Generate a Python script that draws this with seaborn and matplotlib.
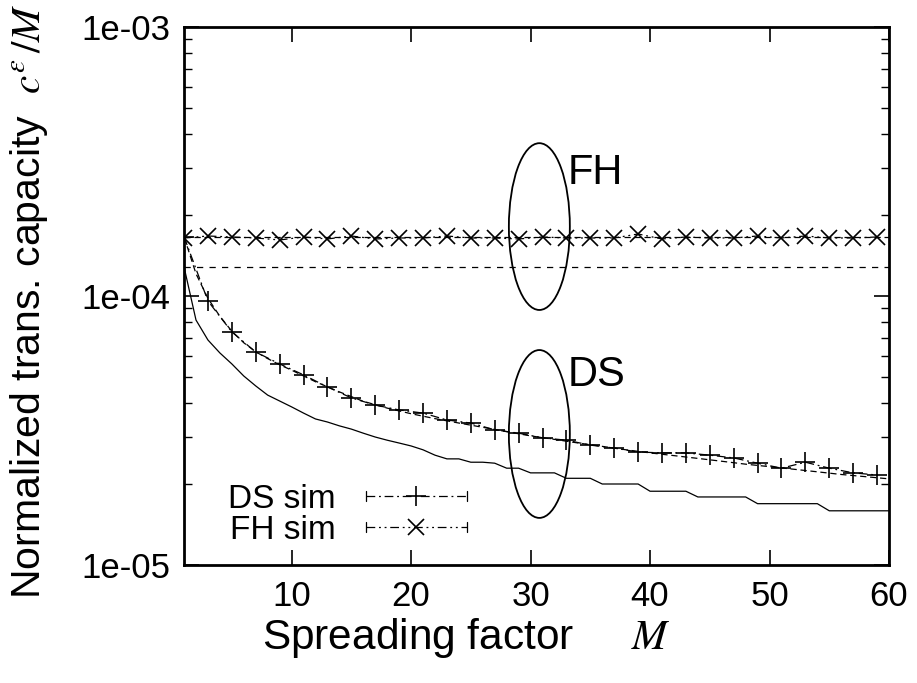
import numpy as np
import pandas as pd
import matplotlib
matplotlib.use("Agg")
import matplotlib.pyplot as plt
import seaborn as sns
from matplotlib.patches import Ellipse
from matplotlib.lines import Line2D
from matplotlib.legend_handler import HandlerBase

# ---------------- data ----------------
m_sim = [1, 3, 5, 7, 9, 11, 13, 15, 17, 19, 21, 23, 25, 27, 29,
         31, 33, 35, 37, 39, 41, 43, 45, 47, 49, 51, 53, 55, 57, 59]
ds_sim = [1.66e-4, 9.58e-5, 7.35e-5, 6.19e-5, 5.59e-5, 5.09e-5, 4.59e-5, 4.18e-5,
          3.93e-5, 3.77e-5, 3.67e-5, 3.46e-5, 3.37e-5, 3.18e-5, 3.09e-5,
          2.97e-5, 2.91e-5, 2.79e-5, 2.72e-5, 2.63e-5, 2.61e-5, 2.61e-5, 2.56e-5,
          2.50e-5, 2.39e-5, 2.29e-5, 2.41e-5, 2.29e-5, 2.20e-5, 2.16e-5]
fh_sim = [1.643e-4, 1.671e-4, 1.657e-4, 1.643e-4, 1.615e-4, 1.657e-4, 1.629e-4, 1.671e-4,
          1.629e-4, 1.643e-4, 1.643e-4, 1.671e-4, 1.643e-4, 1.643e-4, 1.629e-4,
          1.657e-4, 1.643e-4, 1.643e-4, 1.643e-4, 1.700e-4, 1.629e-4, 1.657e-4, 1.643e-4,
          1.643e-4, 1.671e-4, 1.643e-4, 1.671e-4, 1.643e-4, 1.643e-4, 1.657e-4]

m_theory = [1, 2, 3, 4, 5, 6, 7, 8, 9, 10, 12, 14, 16, 18, 20, 22, 24, 26, 28, 30,
            32, 34, 36, 38, 40, 42, 44, 46, 48, 50, 52, 54, 56, 58, 60]
ds_theory = [1.66e-4, 1.21e-4, 9.8e-5, 8.4e-5, 7.4e-5, 6.7e-5, 6.2e-5, 5.85e-5, 5.55e-5,
             5.3e-5, 4.8e-5, 4.4e-5, 4.06e-5, 3.83e-5, 3.65e-5, 3.5e-5, 3.37e-5, 3.25e-5,
             3.13e-5, 3.02e-5, 2.93e-5, 2.84e-5, 2.76e-5, 2.68e-5, 2.61e-5, 2.55e-5,
             2.49e-5, 2.43e-5, 2.37e-5, 2.32e-5, 2.27e-5, 2.22e-5, 2.17e-5, 2.13e-5, 2.09e-5]

m_bound = list(range(1, 61))
ds_bound = [1.282e-4, 8.14e-5, 6.86e-5, 6.14e-5, 5.59e-5, 5.04e-5, 4.63e-5, 4.28e-5, 4.07e-5, 3.87e-5,
            3.67e-5, 3.49e-5, 3.40e-5, 3.29e-5, 3.20e-5, 3.09e-5, 2.99e-5, 2.91e-5, 2.84e-5, 2.77e-5,
            2.68e-5, 2.56e-5, 2.48e-5, 2.48e-5, 2.41e-5, 2.41e-5, 2.39e-5, 2.29e-5, 2.29e-5, 2.20e-5,
            2.20e-5, 2.20e-5, 2.10e-5, 2.10e-5, 2.10e-5, 2.00e-5, 2.00e-5, 2.00e-5, 2.00e-5, 1.88e-5,
            1.88e-5, 1.88e-5, 1.88e-5, 1.79e-5, 1.79e-5, 1.79e-5, 1.79e-5, 1.79e-5, 1.69e-5, 1.69e-5,
            1.69e-5, 1.69e-5, 1.69e-5, 1.69e-5, 1.59e-5, 1.59e-5, 1.59e-5, 1.59e-5, 1.59e-5, 1.59e-5]

fh_theory_level = 1.65e-4
fh_bound_level = 1.282e-4

x_ticks = [10, 20, 30, 40, 50, 60]
y_ticks = [1e-5, 1e-4, 1e-3]
y_tick_labels = ["1e-05", "1e-04", "1e-03"]

# ---------------- style ----------------
sns.set_style("ticks")
plt.rcParams["font.family"] = ["Liberation Sans", "DejaVu Sans"]
plt.rcParams["mathtext.fontset"] = "stix"
for key in ["text.color", "axes.labelcolor", "xtick.color", "ytick.color", "axes.edgecolor"]:
    plt.rcParams[key] = "k"

fig = plt.figure(figsize=(9.17, 6.83), dpi=100)
ax = fig.add_axes([0.2007, 0.1728, 0.7688, 0.7877])
ax.set_yscale("log")

LW = 0.9
df_bound = pd.DataFrame({"M": m_bound, "v": ds_bound})
df_th = pd.DataFrame({"M": m_theory, "v": ds_theory})
df_ds = pd.DataFrame({"M": m_sim, "v": ds_sim})
df_fh = pd.DataFrame({"M": m_sim, "v": fh_sim})

sns.lineplot(data=df_bound, x="M", y="v", ax=ax, color="k", lw=LW, linestyle="-")
sns.lineplot(data=df_th, x="M", y="v", ax=ax, color="k", lw=LW, linestyle=(0, (5, 3)))
ax.axhline(fh_bound_level, color="k", lw=LW, linestyle=(0, (5, 5)))
ax.axhline(fh_theory_level, color="k", lw=LW, linestyle=(0, (5, 3)))
sns.lineplot(data=df_ds, x="M", y="v", ax=ax, color="k", lw=LW,
             linestyle=(0, (7, 3, 1.5, 3)), marker="+", markersize=15,
             markeredgewidth=1.2, markeredgecolor="k", markerfacecolor="k",
             label="DS sim")
sns.lineplot(data=df_fh, x="M", y="v", ax=ax, color="k", lw=LW,
             linestyle=(0, (7, 3, 1.5, 3, 1.5, 3)), marker="x", markersize=11,
             markeredgewidth=1.2, markeredgecolor="k", markerfacecolor="k",
             label="FH sim")

ax.set_xlim(1, 60)
ax.set_ylim(1e-5, 1e-3)
ax.set_xticks(x_ticks)
ax.set_xticklabels([str(t) for t in x_ticks])
ax.set_yticks(y_ticks)
ax.set_yticklabels(y_tick_labels)

for s in ax.spines.values():
    s.set_linewidth(2.0)
    s.set_visible(True)
    s.set_color("k")
ax.tick_params(which="major", direction="in", length=11, width=1.2,
               top=True, right=True, labelsize=25, colors="k")
ax.tick_params(axis="x", which="major", pad=11)
ax.tick_params(axis="y", which="major", pad=10)
ax.tick_params(which="minor", direction="in", length=6, width=1.0,
               top=False, right=True, left=True, colors="k")
ax.tick_params(axis="x", which="minor", bottom=False, top=False)

ax.set_xlabel("Spreading factor     $M$", fontsize=30.5)
ax.set_ylabel("Normalized trans. capacity  $c^{\\varepsilon}\\,/M$", fontsize=29.5)
ax.xaxis.set_label_coords(0.40, -0.095)
ax.yaxis.set_label_coords(-0.19, 0.49)

# ellipses and annotations
ax.add_patch(Ellipse((0.504, 0.629), 0.0865, 0.310, transform=ax.transAxes,
                     fill=False, ec="k", lw=1.3))
ax.add_patch(Ellipse((0.504, 0.2435), 0.0865, 0.312, transform=ax.transAxes,
                     fill=False, ec="k", lw=1.3))
ax.text(0.5447, 0.7286, "FH", transform=ax.transAxes, fontsize=30,
        ha="left", va="center")
ax.text(0.5447, 0.353, "DS", transform=ax.transAxes, fontsize=30,
        ha="left", va="center")


class CapHandler(HandlerBase):
    def create_artists(self, legend, orig_handle, xdescent, ydescent,
                       width, height, fontsize, trans):
        x0 = -xdescent
        x1 = width - xdescent
        yc = (height - ydescent) / 2.0
        cap = 0.22 * height
        line = Line2D([x0, x1], [yc, yc])
        line.update_from(orig_handle)
        line.set_marker("None")
        c1 = Line2D([x0, x0], [yc - cap, yc + cap], color="k", lw=LW)
        c2 = Line2D([x1, x1], [yc - cap, yc + cap], color="k", lw=LW)
        mk = Line2D([(x0 + x1) / 2.0], [yc])
        mk.update_from(orig_handle)
        mk.set_linestyle("None")
        arts = [line, c1, c2, mk]
        for a in arts:
            a.set_transform(trans)
        return arts


handles, labels = ax.get_legend_handles_labels()
leg = ax.legend(handles, labels, loc="center", bbox_to_anchor=(0.232, 0.093),
                frameon=False, markerfirst=False, fontsize=24,
                handlelength=3.05, handletextpad=0.9, labelspacing=0.0,
                borderpad=0.0, handler_map={Line2D: CapHandler()})

fig.savefig("out.png", dpi=100)
